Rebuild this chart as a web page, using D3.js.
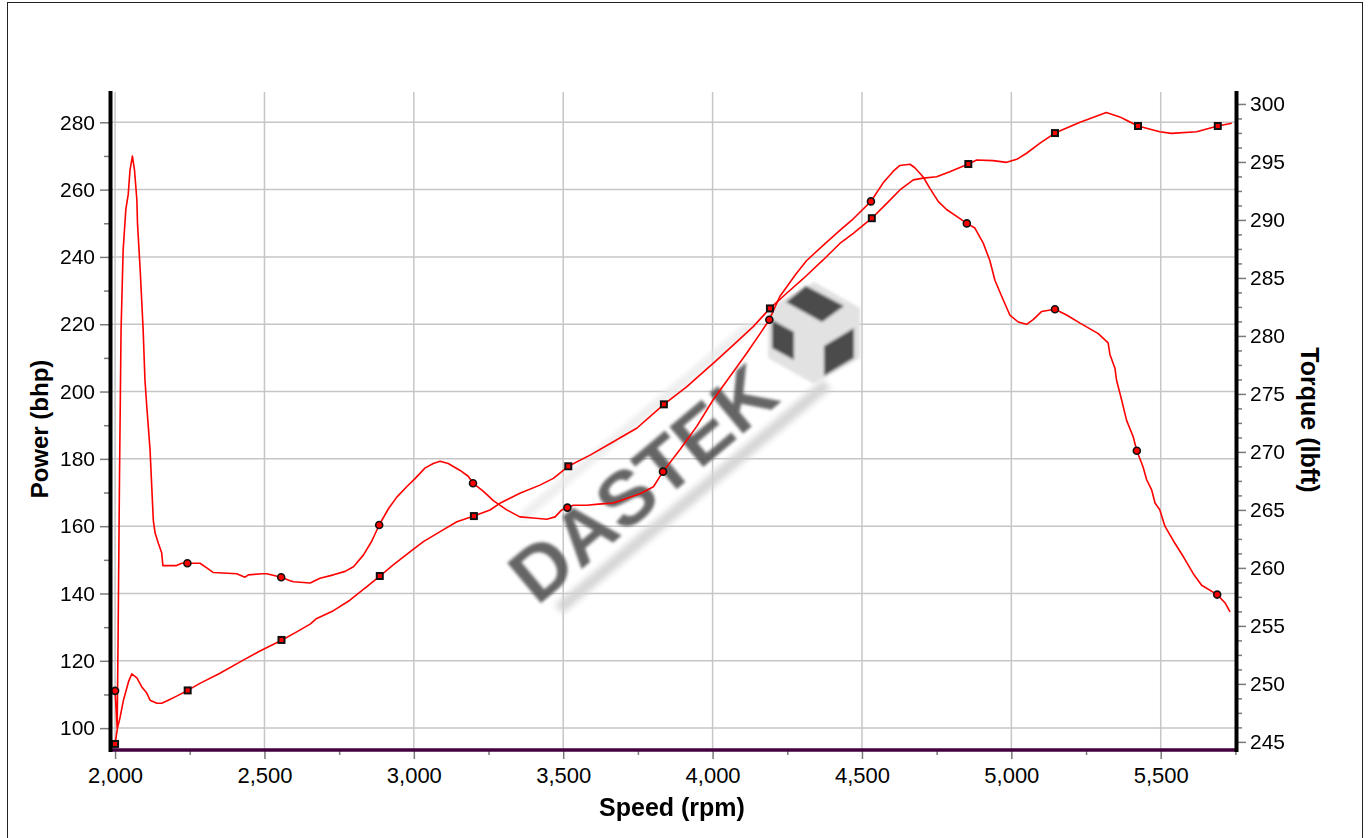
<!DOCTYPE html>
<html>
<head>
<meta charset="utf-8">
<script src="https://cdn.jsdelivr.net/npm/d3@7"></script>
<style>
  html, body { margin: 0; padding: 0; background: #fff; }
  svg { display: block; font-family: "Liberation Sans", Arial, sans-serif; }
</style>
</head>
<body>
<svg id="chart" width="1372" height="838"></svg>
<script>
// ---------------- data ----------------
const powerRpm = [2000,2008,2017,2028,2045,2056,2073,2089,2106,2117,2140,2156,2178,2206,2243,2284,2351,2429,2485,2559,2608,2653,2675,2731,2786,2842,2887,2931,2987,3032,3088,3144,3201,3255,3288,3355,3422,3467,3517,3590,3668,3746,3837,3913,4002,4069,4136,4192,4248,4304,4370,4426,4471,4533,4583,4627,4672,4705,4750,4794,4856,4884,4939,4984,5018,5051,5096,5146,5230,5318,5363,5424,5497,5536,5620,5691,5738];
const powerBhp = [95.3,100.0,103.3,108.3,113.8,116.1,114.9,112.3,110.4,108.3,107.4,107.4,108.3,109.5,111.2,113.3,116.3,120.2,122.9,126.2,128.6,130.9,132.6,134.9,138.0,142.0,145.2,148.5,152.4,155.4,158.4,161.3,163.0,164.8,166.8,169.8,172.2,174.2,177.8,181.1,185.1,189.1,196.2,201.4,208.4,213.8,219.3,224.7,229.2,233.6,239.1,244.0,247.0,251.5,255.9,259.9,262.9,263.4,263.8,265.3,267.6,268.8,268.6,268.1,269.0,270.8,273.8,276.8,280.0,282.9,281.6,278.9,277.2,276.7,277.2,278.9,279.7];

const torqueRpm = [2000,2007,2010,2015,2020,2027,2036,2044,2050,2058,2065,2073,2075,2084,2094,2100,2107,2117,2128,2134,2145,2156,2160,2206,2223,2242,2284,2307,2329,2407,2435,2446,2491,2508,2556,2586,2597,2653,2686,2731,2770,2798,2831,2859,2884,2915,2943,2976,3004,3037,3065,3088,3115,3155,3182,3198,3233,3266,3311,3355,3400,3445,3473,3495,3514,3534,3579,3618,3668,3757,3802,3834,3891,3947,4002,4058,4114,4159,4190,4225,4281,4315,4370,4426,4471,4530,4571,4605,4627,4661,4677,4705,4728,4755,4783,4817,4851,4878,4906,4928,4945,4973,4995,5023,5051,5073,5101,5146,5185,5230,5291,5324,5330,5347,5352,5369,5386,5408,5420,5441,5453,5470,5481,5497,5514,5548,5575,5609,5637,5689,5715,5732];
const torqueLbft = [249.4,246.2,253.8,268.4,280.5,287.4,290.9,292.2,294.3,295.5,294.3,291.7,289.7,285.7,280.5,276.2,273.6,270.2,264.1,263.0,262.1,261.3,260.2,260.2,260.4,260.4,260.4,260.0,259.6,259.5,259.2,259.4,259.5,259.5,259.2,258.9,258.8,258.7,259.1,259.4,259.7,260.1,261.1,262.3,263.7,265.1,266.1,267.0,267.7,268.6,269.0,269.2,269.0,268.4,267.9,267.3,266.6,265.8,265.0,264.4,264.3,264.2,264.4,265.0,265.2,265.4,265.4,265.5,265.6,266.4,267.0,268.3,270.2,272.2,274.5,276.5,278.5,280.2,281.4,283.4,285.4,286.5,287.8,289.1,290.1,291.6,293.2,294.2,294.7,294.8,294.5,293.7,292.7,291.6,290.9,290.3,289.7,289.3,288.0,286.5,284.8,283.1,281.8,281.2,281.0,281.4,282.1,282.3,281.8,281.1,280.2,279.4,278.4,277.2,276.2,274.5,272.7,271.3,270.1,268.7,267.6,266.7,265.6,265.0,263.6,262.1,261.0,259.5,258.5,257.7,257.0,256.2];

const powerMarkerRpm = [2000,2243,2557,2886,3201,3517,3837,4192,4533,4856,5146,5424,5691];
const powerMarkerBhp = [95.3,111.2,126.2,145.2,163.0,177.8,196.2,224.7,251.5,267.6,276.8,278.9,278.9];
const torqueMarkerRpm = [2000,2242,2556,2884,3198,3514,3834,4190,4530,4851,5146,5420,5689];
const torqueMarkerLbft = [249.4,260.4,259.2,263.7,267.3,265.2,268.3,281.4,291.6,289.7,282.3,270.1,257.7];

const xTicks = [2000,2500,3000,3500,4000,4500,5000,5500];
const xMinorTicks = [2250,2750,3250,3750,4250,4750,5250,5750];
const leftTicks = [100,120,140,160,180,200,220,240,260,280];
const leftMinorTicks = [110,130,150,170,190,210,230,250,270];
const rightTicks = [245,250,255,260,265,270,275,280,285,290,295,300];

const xTitle = "Speed (rpm)";
const leftTitle = "Power (bhp)";
const rightTitle = "Torque (lbft)";
const watermark = "DASTEK";

// ---------------- layout ----------------
const svg = d3.select("#chart");
const L = 110, R = 1236, T = 92, B = 750;

const x = d3.scaleLinear().domain([1983, 5752]).range([L, R]);
const yL = d3.scaleLinear().domain([93.5, 289]).range([B, T]);
const yR = d3.scaleLinear().domain([244.3, 301.03]).range([B, T]);

// outer frame
svg.append("rect").attr("x", 7.5).attr("y", 2.5).attr("width", 1355).attr("height", 850)
  .attr("fill", "none").attr("stroke", "#222").attr("stroke-width", 1);

const defs = svg.append("defs");
defs.append("clipPath").attr("id", "plotClip").append("rect")
  .attr("x", L).attr("y", T - 2).attr("width", R - L).attr("height", B - T + 2);
defs.append("filter").attr("id", "blur").attr("x", "-20%").attr("y", "-20%").attr("width", "140%").attr("height", "140%")
  .append("feGaussianBlur").attr("stdDeviation", 1.8);
defs.append("filter").attr("id", "blur2").attr("x", "-20%").attr("y", "-50%").attr("width", "140%").attr("height", "200%")
  .append("feGaussianBlur").attr("stdDeviation", 3);

// grid
const grid = svg.append("g");
grid.selectAll("line.v").data(xTicks).join("line")
  .attr("x1", d => x(d)).attr("x2", d => x(d)).attr("y1", T).attr("y2", B)
  .attr("stroke", "#c6c6c6").attr("stroke-width", 1.5);
grid.selectAll("line.h").data(leftTicks).join("line")
  .attr("x1", L).attr("x2", R).attr("y1", d => yL(d)).attr("y2", d => yL(d))
  .attr("stroke", "#c6c6c6").attr("stroke-width", 1.5);

// watermark
const wm = svg.append("g").attr("transform", "translate(648,482) rotate(-40)").attr("opacity", 0.85);
wm.append("rect").attr("x", -150).attr("y", 34).attr("width", 350).attr("height", 12)
  .attr("fill", "#cfcfcf").attr("filter", "url(#blur2)");
wm.append("rect").attr("x", -120).attr("y", -58).attr("width", 300).attr("height", 8)
  .attr("fill", "#e6e6e6").attr("filter", "url(#blur2)");
wm.append("text").attr("x", -165).attr("y", 24).text(watermark)
  .attr("font-family", "Liberation Sans, Arial, sans-serif").attr("font-weight", "bold")
  .attr("font-size", 76).attr("textLength", 320).attr("lengthAdjust", "spacingAndGlyphs")
  .attr("fill", "#4a4a4a").attr("filter", "url(#blur)");
const cube = svg.append("g").attr("transform", "translate(814,332)").attr("filter", "url(#blur)");
cube.append("polygon").attr("points", "0,-50 46,-24 46,26 0,52 -46,26 -46,-24").attr("fill", "#e2e2e2");
cube.append("polygon").attr("points", "-8,-46 30,-26 8,-10 -28,-30").attr("fill", "#4c4c4c");
cube.append("polygon").attr("points", "-42,-12 -20,0 -20,28 -42,16").attr("fill", "#4c4c4c");
cube.append("polygon").attr("points", "10,14 40,-4 40,26 10,44").attr("fill", "#4c4c4c");

// curves
const plot = svg.append("g").attr("clip-path", "url(#plotClip)");
const powerPts = powerRpm.map((r, i) => [r, powerBhp[i]]);
const torquePts = torqueRpm.map((r, i) => [r, torqueLbft[i]]);
plot.append("path").datum(powerPts)
  .attr("d", d3.line().x(d => x(d[0])).y(d => yL(d[1])))
  .attr("fill", "none").attr("stroke", "#ff0000").attr("stroke-width", 1.6).attr("stroke-linejoin", "round");
plot.append("path").datum(torquePts)
  .attr("d", d3.line().x(d => x(d[0])).y(d => yR(d[1])))
  .attr("fill", "none").attr("stroke", "#ff0000").attr("stroke-width", 1.6).attr("stroke-linejoin", "round");

// markers
const pm = powerMarkerRpm.map((r, i) => [r, powerMarkerBhp[i]]);
const tm = torqueMarkerRpm.map((r, i) => [r, torqueMarkerLbft[i]]);
svg.append("g").selectAll("rect").data(pm).join("rect")
  .attr("x", d => x(d[0]) - 3).attr("y", d => yL(d[1]) - 3).attr("width", 6).attr("height", 6)
  .attr("fill", "#ff0000").attr("stroke", "#111").attr("stroke-width", 2);
svg.append("g").selectAll("circle").data(tm).join("circle")
  .attr("cx", d => x(d[0])).attr("cy", d => yR(d[1])).attr("r", 3.5)
  .attr("fill", "#ff0000").attr("stroke", "#111").attr("stroke-width", 1.6);

// axes
const gx = svg.append("g").attr("transform", `translate(0,${B})`)
  .call(d3.axisBottom(x).tickValues(xTicks).tickFormat(d3.format(",")).tickSize(9).tickPadding(8));
gx.append("g").call(d3.axisBottom(x).tickValues(xMinorTicks.filter(d => d < 5752)).tickFormat("").tickSize(5));
const gl = svg.append("g").attr("transform", `translate(${L},0)`)
  .call(d3.axisLeft(yL).tickValues(leftTicks).tickSize(10).tickPadding(5));
gl.append("g").call(d3.axisLeft(yL).tickValues(leftMinorTicks).tickFormat("").tickSize(6));
const gr = svg.append("g").attr("transform", `translate(${R},0)`)
  .call(d3.axisRight(yR).tickValues(rightTicks).tickSize(10).tickPadding(4));
gr.append("g").call(d3.axisRight(yR).tickValues(d3.range(245, 301.1, 1.25).filter(v => v % 5 !== 0)).tickFormat("").tickSize(6));

[gx, gl, gr].forEach(g => {
  g.selectAll(".domain").remove();
  g.selectAll(".tick line").attr("stroke", "#7a7a7a").attr("stroke-width", 1.5);
  g.selectAll(".tick text").attr("fill", "#000")
    .attr("font-family", "Liberation Sans, Arial, sans-serif");
});
gx.selectAll(".tick text").attr("font-size", 22);
gl.selectAll(".tick text").attr("font-size", 21);
gr.selectAll(".tick text").attr("font-size", 21);

// axis lines
svg.append("line").attr("x1", L).attr("x2", R).attr("y1", B).attr("y2", B)
  .attr("stroke", "#44003f").attr("stroke-width", 3.6);
svg.append("line").attr("x1", L + 0.5).attr("x2", L + 0.5).attr("y1", T - 1).attr("y2", B + 2)
  .attr("stroke", "#000").attr("stroke-width", 4);
svg.append("line").attr("x1", R + 0.5).attr("x2", R + 0.5).attr("y1", T - 1).attr("y2", B + 2)
  .attr("stroke", "#000").attr("stroke-width", 4);

// titles
svg.append("text").text(xTitle).attr("x", 672).attr("y", 816)
  .attr("text-anchor", "middle").attr("font-weight", "bold").attr("font-size", 25);
svg.append("text").text(leftTitle).attr("transform", `translate(48,429) rotate(-90)`)
  .attr("text-anchor", "middle").attr("font-weight", "bold").attr("font-size", 24);
svg.append("text").text(rightTitle).attr("transform", `translate(1301,420) rotate(90)`)
  .attr("text-anchor", "middle").attr("font-weight", "bold").attr("font-size", 25);
</script>
</body>
</html>
